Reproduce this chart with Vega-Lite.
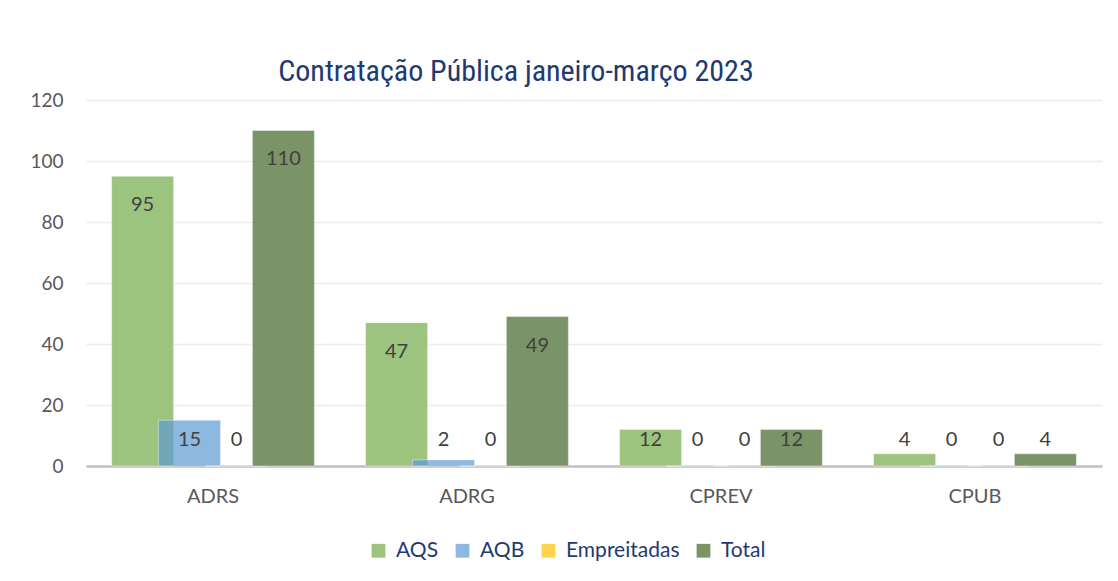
{
  "$schema": "https://vega.github.io/schema/vega-lite/v6.json",
  "width": 1016,
  "height": 366,
  "autosize": {"type": "none"},
  "padding": {"left": 86, "top": 100, "right": 16, "bottom": 115},
  "background": "white",
  "title": {
    "text": "Contratação Pública janeiro-março 2023",
    "font": "Roboto Condensed, Liberation Sans Narrow, Roboto",
    "fontSize": 30,
    "fontWeight": "normal",
    "color": "#1f3a6e",
    "anchor": "middle",
    "baseline": "alphabetic",
    "offset": -20,
    "dx": -78
  },
  "data": {
    "values": [
      {"cat": "ADRS", "series": "AQS", "value": 95},
      {"cat": "ADRS", "series": "AQB", "value": 15},
      {"cat": "ADRS", "series": "Empreitadas", "value": 0},
      {"cat": "ADRS", "series": "Total", "value": 110},
      {"cat": "ADRG", "series": "AQS", "value": 47},
      {"cat": "ADRG", "series": "AQB", "value": 2},
      {"cat": "ADRG", "series": "Empreitadas", "value": 0},
      {"cat": "ADRG", "series": "Total", "value": 49},
      {"cat": "CPREV", "series": "AQS", "value": 12},
      {"cat": "CPREV", "series": "AQB", "value": 0},
      {"cat": "CPREV", "series": "Empreitadas", "value": 0},
      {"cat": "CPREV", "series": "Total", "value": 12},
      {"cat": "CPUB", "series": "AQS", "value": 4},
      {"cat": "CPUB", "series": "AQB", "value": 0},
      {"cat": "CPUB", "series": "Empreitadas", "value": 0},
      {"cat": "CPUB", "series": "Total", "value": 4}
    ]
  },
  "encoding": {
    "x": {
      "field": "cat", "type": "nominal", "sort": null,
      "scale": {"paddingInner": 0.261, "paddingOuter": 0.1305},
      "axis": {
        "title": null, "labelAngle": 0, "ticks": false,
        "domainColor": "#c0c0c0", "domainWidth": 2.5,
        "labelFont": "Lato", "labelFontSize": 20, "labelColor": "#595959",
        "labelPadding": 20, "grid": false
      }
    },
    "xOffset": {
      "field": "series", "type": "nominal",
      "sort": ["AQS", "AQB", "Empreitadas", "Total"],
      "scale": {"paddingInner": 0, "paddingOuter": 0}
    }
  },
  "layer": [
    {
      "mark": {"type": "bar", "width": 62, "stroke": "white", "strokeOpacity": 0.4, "strokeWidth": 1},
      "encoding": {
        "y": {
          "field": "value", "type": "quantitative",
          "scale": {"domain": [0, 120]},
          "axis": {
            "title": null, "values": [0, 20, 40, 60, 80, 100, 120],
            "domain": false, "ticks": false,
            "gridColor": "#ececec", "gridWidth": 1.5,
            "labelFont": "Lato", "labelFontSize": 19, "labelColor": "#595959",
            "labelPadding": 23
          }
        },
        "color": {
          "field": "series", "type": "nominal",
          "sort": ["AQS", "AQB", "Empreitadas", "Total"],
          "scale": {
            "domain": ["AQS", "AQB", "Empreitadas", "Total"],
            "range": ["#9cc47e", "rgba(92,154,211,0.7)", "#ffd34b", "#7a9468"]
          },
          "legend": {
            "title": null, "orient": "none", "direction": "horizontal",
            "legendX": 282, "legendY": 440,
            "symbolType": "square", "symbolSize": 190, "symbolStrokeWidth": 0,
            "symbolOpacity": 1,
            "labelFont": "Lato", "labelFontSize": 21, "labelColor": "#1f3a6e",
            "labelOffset": 7, "columnPadding": 13
          }
        }
      }
    },
    {
      "transform": [
        {"calculate": "max(datum.value - 9.5, 8.5)", "as": "labelPos"}
      ],
      "mark": {
        "type": "text", "font": "Lato", "fontSize": 20, "color": "#404040",
        "baseline": "middle", "align": "center"
      },
      "encoding": {
        "y": {"field": "labelPos", "type": "quantitative"},
        "text": {"field": "value", "type": "quantitative"}
      }
    }
  ],
  "config": {
    "view": {"stroke": null},
    "bar": {"opacity": 1}
  }
}
